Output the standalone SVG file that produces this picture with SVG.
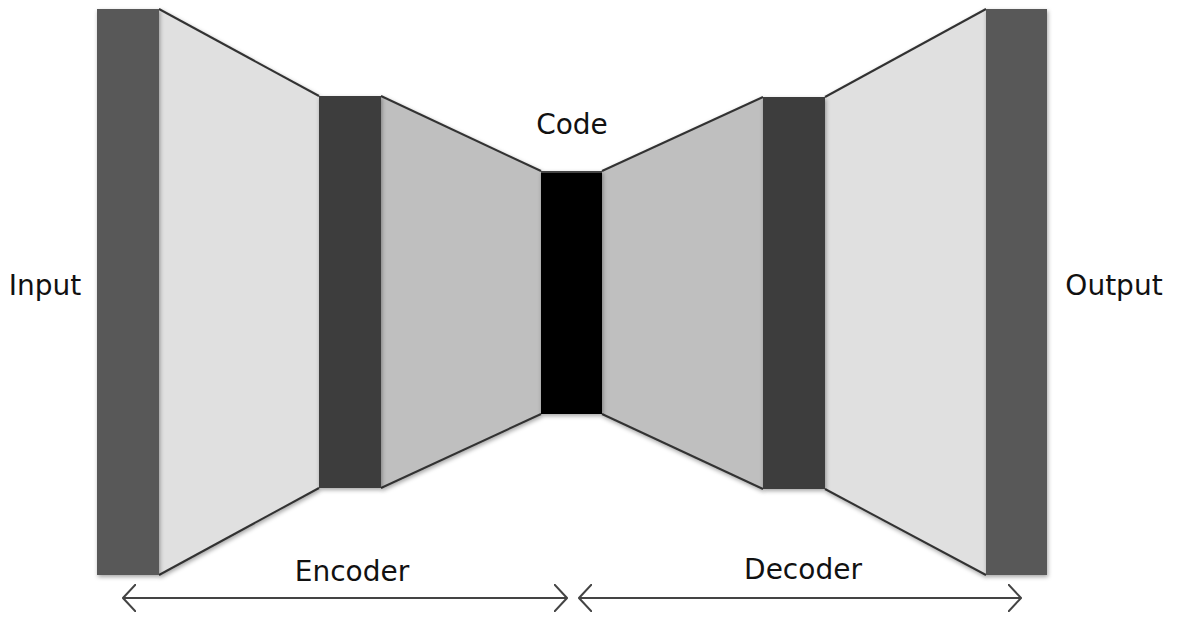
<svg xmlns="http://www.w3.org/2000/svg" width="1177" height="618" viewBox="0 0 1177 618">
<style>
.lbl{font-family:"DejaVu Sans",sans-serif;font-size:28px;fill:#111}
.edge{stroke:#333;stroke-width:2;fill:none}
.arr{stroke:#444;stroke-width:2;fill:none}
</style>
<defs>
<filter id="sh" x="-20%" y="-20%" width="140%" height="140%">
<feDropShadow dx="1" dy="2" stdDeviation="2" flood-color="#000" flood-opacity="0.35"/>
</filter>
<marker id="chev" viewBox="0 0 14 28" refX="13" refY="14" markerWidth="14" markerHeight="28" markerUnits="userSpaceOnUse" orient="auto-start-reverse">
<path d="M0,0 L13,14 L0,28" fill="none" stroke="#444" stroke-width="2"/>
</marker>
</defs>
<rect width="1177" height="618" fill="#fff"/>
<g id="trap1" filter="url(#sh)">
<polygon points="159,9 319,96 319,488 159,575" fill="#e0e0e0"/>
<line class="edge" x1="159" y1="9" x2="319" y2="96"/>
<line class="edge" x1="159" y1="575" x2="319" y2="488"/>
</g>
<g id="trap2" filter="url(#sh)">
<polygon points="381,96 541,171 541,414 381,488" fill="#bfbfbf"/>
<line class="edge" x1="381" y1="96" x2="541" y2="171"/>
<line class="edge" x1="381" y1="488" x2="541" y2="414"/>
</g>
<g id="trap3" filter="url(#sh)">
<polygon points="602,171 763,97 763,489 602,414" fill="#bfbfbf"/>
<line class="edge" x1="602" y1="171" x2="763" y2="97"/>
<line class="edge" x1="602" y1="414" x2="763" y2="489"/>
</g>
<g id="trap4" filter="url(#sh)">
<polygon points="825,97 986,9 986,575 825,489" fill="#e0e0e0"/>
<line class="edge" x1="825" y1="97" x2="986" y2="9"/>
<line class="edge" x1="825" y1="489" x2="986" y2="575"/>
</g>
<g id="input-layer" filter="url(#sh)"><rect x="97" y="9" width="62" height="566" fill="#595959"/></g>
<g id="hidden-enc" filter="url(#sh)"><rect x="319" y="96" width="62" height="392" fill="#3d3d3d"/></g>
<g id="code-layer" filter="url(#sh)"><rect x="541" y="171" width="61" height="243" fill="#000"/><line x1="541" y1="172" x2="602" y2="172" stroke="#444" stroke-width="2"/></g>
<g id="hidden-dec" filter="url(#sh)"><rect x="763" y="97" width="62" height="392" fill="#3d3d3d"/></g>
<g id="output-layer" filter="url(#sh)"><rect x="986" y="9" width="61" height="566" fill="#595959"/></g>
<g id="labels">
<text class="lbl" x="45" y="295" text-anchor="middle">Input</text>
<text class="lbl" x="572" y="134" text-anchor="middle">Code</text>
<text class="lbl" x="1114" y="295" text-anchor="middle">Output</text>
<text class="lbl" x="352" y="581" text-anchor="middle">Encoder</text>
<text class="lbl" x="803" y="579" text-anchor="middle">Decoder</text>
</g>
<g id="connectors">
<line class="arr" x1="123" y1="598" x2="567" y2="598" marker-start="url(#chev)" marker-end="url(#chev)"/>
<line class="arr" x1="579" y1="598" x2="1021" y2="598" marker-start="url(#chev)" marker-end="url(#chev)"/>
</g>
</svg>
